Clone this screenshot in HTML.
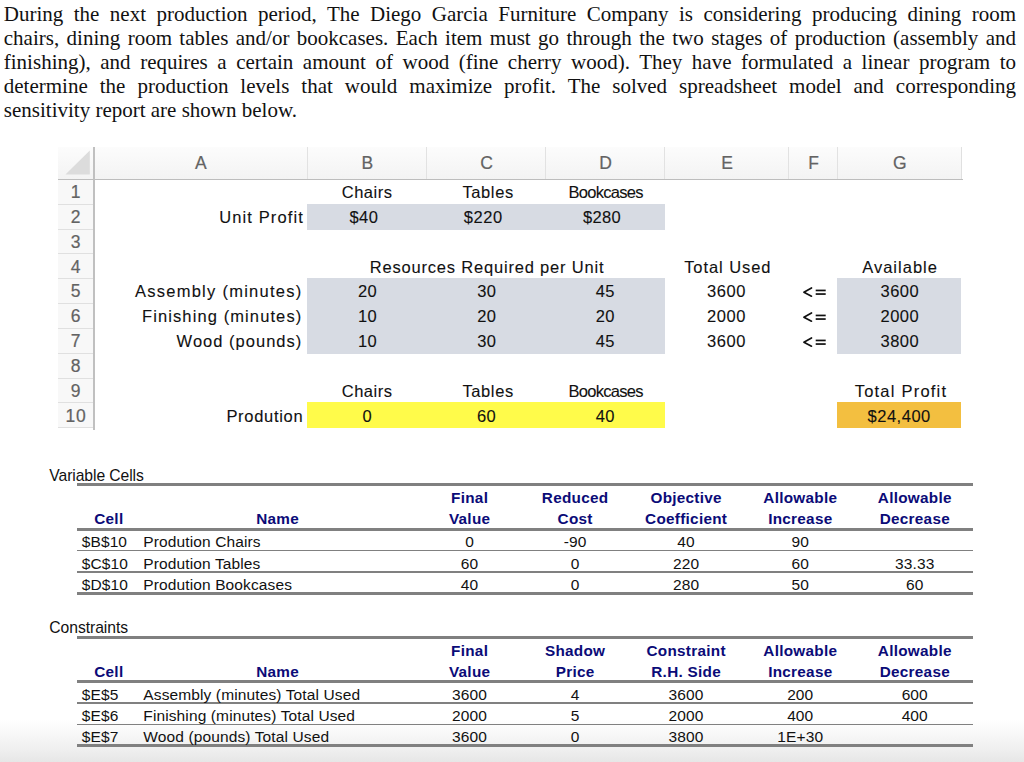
<!DOCTYPE html>
<html><head><meta charset="utf-8"><style>
html,body{margin:0;padding:0;background:#fff;width:1024px;height:762px;overflow:hidden;}
.t{position:absolute;white-space:nowrap;}
.r{position:absolute;}
</style></head><body>
<div class="r" style="left:0.00px;top:720.00px;width:1024.00px;height:42.00px;background:linear-gradient(rgba(226,226,226,0) 0%,rgba(226,226,226,0.35) 45%,rgba(226,226,226,0.6) 75%,rgba(226,226,226,0.85) 100%);"></div>
<div class="t" style="left:3.8px;top:0.21px;width:1012.2px;font-size:21px;line-height:28px;font-family:'Liberation Serif', serif;color:#111;white-space:normal;text-align:justify;text-align-last:justify;">During the next production period, The Diego Garcia Furniture Company is considering producing dining room</div>
<div class="t" style="left:3.8px;top:24.26px;width:1012.2px;font-size:21px;line-height:28px;font-family:'Liberation Serif', serif;color:#111;white-space:normal;text-align:justify;text-align-last:justify;">chairs, dining room tables and/or bookcases. Each item must go through the two stages of production (assembly and</div>
<div class="t" style="left:3.8px;top:48.31px;width:1012.2px;font-size:21px;line-height:28px;font-family:'Liberation Serif', serif;color:#111;white-space:normal;text-align:justify;text-align-last:justify;">finishing), and requires a certain amount of wood (fine cherry wood). They have formulated a linear program to</div>
<div class="t" style="left:3.8px;top:72.36px;width:1012.2px;font-size:21px;line-height:28px;font-family:'Liberation Serif', serif;color:#111;white-space:normal;text-align:justify;text-align-last:justify;">determine the production levels that would maximize profit. The solved spreadsheet model and corresponding</div>
<div class="t" style="left:3.8px;top:96.41px;width:1012.2px;font-size:21px;line-height:28px;font-family:'Liberation Serif', serif;color:#111;white-space:normal;text-align:left;">sensitivity report are shown below.</div>
<div class="r" style="left:58.20px;top:146.50px;width:902.80px;height:33.00px;background:linear-gradient(#fcfcfc,#f3f3f3);"></div>
<div class="r" style="left:58.20px;top:179.50px;width:35.70px;height:248.20px;background:#f8f8f8;"></div>
<div class="r" style="left:306.50px;top:146.50px;width:1.00px;height:33.00px;background:#e2e2e2;"></div>
<div class="r" style="left:426.10px;top:146.50px;width:1.00px;height:33.00px;background:#e2e2e2;"></div>
<div class="r" style="left:544.90px;top:146.50px;width:1.00px;height:33.00px;background:#e2e2e2;"></div>
<div class="r" style="left:664.30px;top:146.50px;width:1.00px;height:33.00px;background:#e2e2e2;"></div>
<div class="r" style="left:787.90px;top:146.50px;width:1.00px;height:33.00px;background:#e2e2e2;"></div>
<div class="r" style="left:837.10px;top:146.50px;width:1.00px;height:33.00px;background:#e2e2e2;"></div>
<div class="r" style="left:960.50px;top:146.50px;width:1.00px;height:33.00px;background:#e0e0e0;"></div>
<div class="r" style="left:58.20px;top:203.82px;width:35.70px;height:1.00px;background:#e0e0e0;"></div>
<div class="r" style="left:58.20px;top:228.64px;width:35.70px;height:1.00px;background:#e0e0e0;"></div>
<div class="r" style="left:58.20px;top:253.46px;width:35.70px;height:1.00px;background:#e0e0e0;"></div>
<div class="r" style="left:58.20px;top:278.28px;width:35.70px;height:1.00px;background:#e0e0e0;"></div>
<div class="r" style="left:58.20px;top:303.10px;width:35.70px;height:1.00px;background:#e0e0e0;"></div>
<div class="r" style="left:58.20px;top:327.92px;width:35.70px;height:1.00px;background:#e0e0e0;"></div>
<div class="r" style="left:58.20px;top:352.74px;width:35.70px;height:1.00px;background:#e0e0e0;"></div>
<div class="r" style="left:58.20px;top:377.56px;width:35.70px;height:1.00px;background:#e0e0e0;"></div>
<div class="r" style="left:58.20px;top:402.38px;width:35.70px;height:1.00px;background:#e0e0e0;"></div>
<div class="r" style="left:58.20px;top:427.20px;width:35.70px;height:1.00px;background:#e0e0e0;"></div>
<div class="r" style="left:58.20px;top:178.70px;width:904.80px;height:1.60px;background:#bdbdbd;"></div>
<div class="r" style="left:93.10px;top:146.50px;width:1.60px;height:283.50px;background:#c0c0c0;"></div>
<svg class="r" style="left:65px;top:150px;width:26px;height:26px" viewBox="0 0 26 26"><polygon points="0.4,24.6 24.8,0.6 24.8,24.6" fill="#dcdcdc"/></svg>
<div class="t" style="left:195.09px;top:149.54px;font-size:17.5px;line-height:26px;font-family:'Liberation Sans', sans-serif;color:#636363;-webkit-text-stroke:0.2px #636363;">A</div>
<div class="t" style="left:361.48px;top:149.54px;font-size:17.5px;line-height:26px;font-family:'Liberation Sans', sans-serif;color:#636363;-webkit-text-stroke:0.2px #636363;">B</div>
<div class="t" style="left:480.20px;top:149.54px;font-size:17.5px;line-height:26px;font-family:'Liberation Sans', sans-serif;color:#636363;-webkit-text-stroke:0.2px #636363;">C</div>
<div class="t" style="left:599.30px;top:149.54px;font-size:17.5px;line-height:26px;font-family:'Liberation Sans', sans-serif;color:#636363;-webkit-text-stroke:0.2px #636363;">D</div>
<div class="t" style="left:721.28px;top:149.54px;font-size:17.5px;line-height:26px;font-family:'Liberation Sans', sans-serif;color:#636363;-webkit-text-stroke:0.2px #636363;">E</div>
<div class="t" style="left:808.16px;top:149.54px;font-size:17.5px;line-height:26px;font-family:'Liberation Sans', sans-serif;color:#636363;-webkit-text-stroke:0.2px #636363;">F</div>
<div class="t" style="left:892.97px;top:149.54px;font-size:17.5px;line-height:26px;font-family:'Liberation Sans', sans-serif;color:#636363;-webkit-text-stroke:0.2px #636363;">G</div>
<div class="t" style="left:70.74px;top:179.14px;font-size:17.5px;line-height:26px;font-family:'Liberation Sans', sans-serif;color:#636363;letter-spacing:0.800px;-webkit-text-stroke:0.2px #636363;">1</div>
<div class="t" style="left:70.74px;top:203.96px;font-size:17.5px;line-height:26px;font-family:'Liberation Sans', sans-serif;color:#636363;letter-spacing:0.800px;-webkit-text-stroke:0.2px #636363;">2</div>
<div class="t" style="left:70.74px;top:228.78px;font-size:17.5px;line-height:26px;font-family:'Liberation Sans', sans-serif;color:#636363;letter-spacing:0.800px;-webkit-text-stroke:0.2px #636363;">3</div>
<div class="t" style="left:70.74px;top:253.60px;font-size:17.5px;line-height:26px;font-family:'Liberation Sans', sans-serif;color:#636363;letter-spacing:0.800px;-webkit-text-stroke:0.2px #636363;">4</div>
<div class="t" style="left:70.74px;top:278.42px;font-size:17.5px;line-height:26px;font-family:'Liberation Sans', sans-serif;color:#636363;letter-spacing:0.800px;-webkit-text-stroke:0.2px #636363;">5</div>
<div class="t" style="left:70.74px;top:303.24px;font-size:17.5px;line-height:26px;font-family:'Liberation Sans', sans-serif;color:#636363;letter-spacing:0.800px;-webkit-text-stroke:0.2px #636363;">6</div>
<div class="t" style="left:70.74px;top:328.06px;font-size:17.5px;line-height:26px;font-family:'Liberation Sans', sans-serif;color:#636363;letter-spacing:0.800px;-webkit-text-stroke:0.2px #636363;">7</div>
<div class="t" style="left:70.74px;top:352.88px;font-size:17.5px;line-height:26px;font-family:'Liberation Sans', sans-serif;color:#636363;letter-spacing:0.800px;-webkit-text-stroke:0.2px #636363;">8</div>
<div class="t" style="left:70.74px;top:377.70px;font-size:17.5px;line-height:26px;font-family:'Liberation Sans', sans-serif;color:#636363;letter-spacing:0.800px;-webkit-text-stroke:0.2px #636363;">9</div>
<div class="t" style="left:65.49px;top:402.52px;font-size:17.5px;line-height:26px;font-family:'Liberation Sans', sans-serif;color:#636363;letter-spacing:0.800px;-webkit-text-stroke:0.2px #636363;">10</div>
<div class="r" style="left:306.60px;top:203.92px;width:358.60px;height:25.62px;background:#d7dbe3;"></div>
<div class="r" style="left:306.60px;top:278.38px;width:358.60px;height:75.26px;background:#d7dbe3;"></div>
<div class="r" style="left:837.20px;top:278.38px;width:124.20px;height:75.26px;background:#d7dbe3;"></div>
<div class="r" style="left:306.60px;top:402.48px;width:358.60px;height:25.62px;background:#fffb4a;"></div>
<div class="r" style="left:837.20px;top:402.48px;width:124.20px;height:25.62px;background:#f3bf40;"></div>
<div class="t" style="left:341.70px;top:180.18px;font-size:16.5px;line-height:25px;font-family:'Liberation Sans', sans-serif;color:#111;letter-spacing:0.543px;-webkit-text-stroke:0.1px #111;">Chairs</div>
<div class="t" style="left:462.40px;top:180.18px;font-size:16.5px;line-height:25px;font-family:'Liberation Sans', sans-serif;color:#111;letter-spacing:0.623px;-webkit-text-stroke:0.1px #111;">Tables</div>
<div class="t" style="left:568.50px;top:180.18px;font-size:16.5px;line-height:25px;font-family:'Liberation Sans', sans-serif;color:#111;letter-spacing:-0.723px;-webkit-text-stroke:0.1px #111;">Bookcases</div>
<div class="t" style="left:341.70px;top:378.74px;font-size:16.5px;line-height:25px;font-family:'Liberation Sans', sans-serif;color:#111;letter-spacing:0.543px;-webkit-text-stroke:0.1px #111;">Chairs</div>
<div class="t" style="left:462.40px;top:378.74px;font-size:16.5px;line-height:25px;font-family:'Liberation Sans', sans-serif;color:#111;letter-spacing:0.623px;-webkit-text-stroke:0.1px #111;">Tables</div>
<div class="t" style="left:568.50px;top:378.74px;font-size:16.5px;line-height:25px;font-family:'Liberation Sans', sans-serif;color:#111;letter-spacing:-0.723px;-webkit-text-stroke:0.1px #111;">Bookcases</div>
<div class="t" style="left:219.30px;top:205.00px;font-size:16.5px;line-height:25px;font-family:'Liberation Sans', sans-serif;color:#111;letter-spacing:1.106px;-webkit-text-stroke:0.1px #111;">Unit Profit</div>
<div class="t" style="left:349.50px;top:205.00px;font-size:16.5px;line-height:25px;font-family:'Liberation Sans', sans-serif;color:#111;letter-spacing:0.422px;-webkit-text-stroke:0.1px #111;">$40</div>
<div class="t" style="left:463.80px;top:205.00px;font-size:16.5px;line-height:25px;font-family:'Liberation Sans', sans-serif;color:#111;letter-spacing:0.596px;-webkit-text-stroke:0.1px #111;">$220</div>
<div class="t" style="left:583.00px;top:205.00px;font-size:16.5px;line-height:25px;font-family:'Liberation Sans', sans-serif;color:#111;letter-spacing:0.362px;-webkit-text-stroke:0.1px #111;">$280</div>
<div class="t" style="left:369.80px;top:254.64px;font-size:16.5px;line-height:25px;font-family:'Liberation Sans', sans-serif;color:#111;letter-spacing:0.805px;-webkit-text-stroke:0.1px #111;">Resources Required per Unit</div>
<div class="t" style="left:684.20px;top:254.64px;font-size:16.5px;line-height:25px;font-family:'Liberation Sans', sans-serif;color:#111;letter-spacing:0.926px;-webkit-text-stroke:0.1px #111;">Total Used</div>
<div class="t" style="left:862.20px;top:254.64px;font-size:16.5px;line-height:25px;font-family:'Liberation Sans', sans-serif;color:#111;letter-spacing:1.017px;-webkit-text-stroke:0.1px #111;">Available</div>
<div class="t" style="left:134.90px;top:279.46px;font-size:16.5px;line-height:25px;font-family:'Liberation Sans', sans-serif;color:#111;letter-spacing:1.266px;-webkit-text-stroke:0.1px #111;">Assembly (minutes)</div>
<div class="t" style="left:358.09px;top:279.46px;font-size:16.5px;line-height:25px;font-family:'Liberation Sans', sans-serif;color:#111;letter-spacing:0.300px;-webkit-text-stroke:0.1px #111;">20</div>
<div class="t" style="left:477.19px;top:279.46px;font-size:16.5px;line-height:25px;font-family:'Liberation Sans', sans-serif;color:#111;letter-spacing:0.300px;-webkit-text-stroke:0.1px #111;">30</div>
<div class="t" style="left:595.69px;top:279.46px;font-size:16.5px;line-height:25px;font-family:'Liberation Sans', sans-serif;color:#111;letter-spacing:0.300px;-webkit-text-stroke:0.1px #111;">45</div>
<div class="t" style="left:707.02px;top:279.46px;font-size:16.5px;line-height:25px;font-family:'Liberation Sans', sans-serif;color:#111;letter-spacing:0.550px;-webkit-text-stroke:0.1px #111;">3600</div>
<svg class="r" style="left:795px;top:280.00px;width:40px;height:24px" viewBox="0 0 40 24"><polyline points="16.5,8.0 8.9,12.2 16.5,16.2" fill="none" stroke="#111" stroke-width="1.7" stroke-linejoin="round" stroke-linecap="round"/><rect x="20.7" y="9.6" width="10" height="1.7" fill="#111"/><rect x="20.7" y="13.2" width="10" height="1.7" fill="#111"/></svg>
<div class="t" style="left:880.42px;top:279.46px;font-size:16.5px;line-height:25px;font-family:'Liberation Sans', sans-serif;color:#111;letter-spacing:0.550px;-webkit-text-stroke:0.1px #111;">3600</div>
<div class="t" style="left:142.00px;top:304.28px;font-size:16.5px;line-height:25px;font-family:'Liberation Sans', sans-serif;color:#111;letter-spacing:1.104px;-webkit-text-stroke:0.1px #111;">Finishing (minutes)</div>
<div class="t" style="left:358.09px;top:304.28px;font-size:16.5px;line-height:25px;font-family:'Liberation Sans', sans-serif;color:#111;letter-spacing:0.300px;-webkit-text-stroke:0.1px #111;">10</div>
<div class="t" style="left:477.19px;top:304.28px;font-size:16.5px;line-height:25px;font-family:'Liberation Sans', sans-serif;color:#111;letter-spacing:0.300px;-webkit-text-stroke:0.1px #111;">20</div>
<div class="t" style="left:595.69px;top:304.28px;font-size:16.5px;line-height:25px;font-family:'Liberation Sans', sans-serif;color:#111;letter-spacing:0.300px;-webkit-text-stroke:0.1px #111;">20</div>
<div class="t" style="left:707.02px;top:304.28px;font-size:16.5px;line-height:25px;font-family:'Liberation Sans', sans-serif;color:#111;letter-spacing:0.550px;-webkit-text-stroke:0.1px #111;">2000</div>
<svg class="r" style="left:795px;top:304.82px;width:40px;height:24px" viewBox="0 0 40 24"><polyline points="16.5,8.0 8.9,12.2 16.5,16.2" fill="none" stroke="#111" stroke-width="1.7" stroke-linejoin="round" stroke-linecap="round"/><rect x="20.7" y="9.6" width="10" height="1.7" fill="#111"/><rect x="20.7" y="13.2" width="10" height="1.7" fill="#111"/></svg>
<div class="t" style="left:880.42px;top:304.28px;font-size:16.5px;line-height:25px;font-family:'Liberation Sans', sans-serif;color:#111;letter-spacing:0.550px;-webkit-text-stroke:0.1px #111;">2000</div>
<div class="t" style="left:176.60px;top:329.10px;font-size:16.5px;line-height:25px;font-family:'Liberation Sans', sans-serif;color:#111;letter-spacing:1.014px;-webkit-text-stroke:0.1px #111;">Wood (pounds)</div>
<div class="t" style="left:358.09px;top:329.10px;font-size:16.5px;line-height:25px;font-family:'Liberation Sans', sans-serif;color:#111;letter-spacing:0.300px;-webkit-text-stroke:0.1px #111;">10</div>
<div class="t" style="left:477.19px;top:329.10px;font-size:16.5px;line-height:25px;font-family:'Liberation Sans', sans-serif;color:#111;letter-spacing:0.300px;-webkit-text-stroke:0.1px #111;">30</div>
<div class="t" style="left:595.69px;top:329.10px;font-size:16.5px;line-height:25px;font-family:'Liberation Sans', sans-serif;color:#111;letter-spacing:0.300px;-webkit-text-stroke:0.1px #111;">45</div>
<div class="t" style="left:707.02px;top:329.10px;font-size:16.5px;line-height:25px;font-family:'Liberation Sans', sans-serif;color:#111;letter-spacing:0.550px;-webkit-text-stroke:0.1px #111;">3600</div>
<svg class="r" style="left:795px;top:329.64px;width:40px;height:24px" viewBox="0 0 40 24"><polyline points="16.5,8.0 8.9,12.2 16.5,16.2" fill="none" stroke="#111" stroke-width="1.7" stroke-linejoin="round" stroke-linecap="round"/><rect x="20.7" y="9.6" width="10" height="1.7" fill="#111"/><rect x="20.7" y="13.2" width="10" height="1.7" fill="#111"/></svg>
<div class="t" style="left:880.42px;top:329.10px;font-size:16.5px;line-height:25px;font-family:'Liberation Sans', sans-serif;color:#111;letter-spacing:0.550px;-webkit-text-stroke:0.1px #111;">3800</div>
<div class="t" style="left:854.70px;top:378.74px;font-size:16.5px;line-height:25px;font-family:'Liberation Sans', sans-serif;color:#111;letter-spacing:1.222px;-webkit-text-stroke:0.1px #111;">Total Profit</div>
<div class="t" style="left:226.40px;top:403.56px;font-size:16.5px;line-height:25px;font-family:'Liberation Sans', sans-serif;color:#111;letter-spacing:0.698px;-webkit-text-stroke:0.1px #111;">Prodution</div>
<div class="t" style="left:362.42px;top:403.56px;font-size:16.5px;line-height:25px;font-family:'Liberation Sans', sans-serif;color:#111;-webkit-text-stroke:0.1px #111;">0</div>
<div class="t" style="left:476.99px;top:403.56px;font-size:16.5px;line-height:25px;font-family:'Liberation Sans', sans-serif;color:#111;letter-spacing:0.300px;-webkit-text-stroke:0.1px #111;">60</div>
<div class="t" style="left:595.69px;top:403.56px;font-size:16.5px;line-height:25px;font-family:'Liberation Sans', sans-serif;color:#111;letter-spacing:0.300px;-webkit-text-stroke:0.1px #111;">40</div>
<div class="t" style="left:867.50px;top:403.56px;font-size:16.5px;line-height:25px;font-family:'Liberation Sans', sans-serif;color:#111;letter-spacing:0.525px;-webkit-text-stroke:0.1px #111;">$24,400</div>
<div class="t" style="left:49.30px;top:463.56px;font-size:15.7px;line-height:24px;font-family:'Liberation Sans', sans-serif;color:#111;letter-spacing:-0.084px;">Variable Cells</div>
<div class="r" style="left:76.80px;top:483.20px;width:896.20px;height:3.00px;background:#808080;"></div>
<div class="t" style="left:94.24px;top:507.10px;font-size:15.3px;line-height:23px;font-family:'Liberation Sans', sans-serif;color:#0b0b78;letter-spacing:0.280px;font-weight:bold;">Cell</div>
<div class="t" style="left:256.23px;top:507.10px;font-size:15.3px;line-height:23px;font-family:'Liberation Sans', sans-serif;color:#0b0b78;letter-spacing:0.280px;font-weight:bold;">Name</div>
<div class="t" style="left:451.08px;top:486.00px;font-size:15.3px;line-height:23px;font-family:'Liberation Sans', sans-serif;color:#0b0b78;letter-spacing:0.280px;font-weight:bold;">Final</div>
<div class="t" style="left:448.94px;top:507.10px;font-size:15.3px;line-height:23px;font-family:'Liberation Sans', sans-serif;color:#0b0b78;letter-spacing:0.280px;font-weight:bold;">Value</div>
<div class="t" style="left:541.84px;top:486.00px;font-size:15.3px;line-height:23px;font-family:'Liberation Sans', sans-serif;color:#0b0b78;letter-spacing:0.280px;font-weight:bold;">Reduced</div>
<div class="t" style="left:557.60px;top:507.10px;font-size:15.3px;line-height:23px;font-family:'Liberation Sans', sans-serif;color:#0b0b78;letter-spacing:0.280px;font-weight:bold;">Cost</div>
<div class="t" style="left:650.46px;top:486.00px;font-size:15.3px;line-height:23px;font-family:'Liberation Sans', sans-serif;color:#0b0b78;letter-spacing:0.280px;font-weight:bold;">Objective</div>
<div class="t" style="left:645.09px;top:507.10px;font-size:15.3px;line-height:23px;font-family:'Liberation Sans', sans-serif;color:#0b0b78;letter-spacing:0.280px;font-weight:bold;">Coefficient</div>
<div class="t" style="left:763.35px;top:486.00px;font-size:15.3px;line-height:23px;font-family:'Liberation Sans', sans-serif;color:#0b0b78;letter-spacing:0.280px;font-weight:bold;">Allowable</div>
<div class="t" style="left:768.16px;top:507.10px;font-size:15.3px;line-height:23px;font-family:'Liberation Sans', sans-serif;color:#0b0b78;letter-spacing:0.280px;font-weight:bold;">Increase</div>
<div class="t" style="left:877.85px;top:486.00px;font-size:15.3px;line-height:23px;font-family:'Liberation Sans', sans-serif;color:#0b0b78;letter-spacing:0.280px;font-weight:bold;">Allowable</div>
<div class="t" style="left:879.68px;top:507.10px;font-size:15.3px;line-height:23px;font-family:'Liberation Sans', sans-serif;color:#0b0b78;letter-spacing:0.280px;font-weight:bold;">Decrease</div>
<div class="r" style="left:76.80px;top:527.60px;width:896.20px;height:3.00px;background:#808080;"></div>
<div class="r" style="left:76.80px;top:549.80px;width:896.20px;height:1.60px;background:#808080;"></div>
<div class="r" style="left:76.80px;top:571.00px;width:896.20px;height:1.60px;background:#808080;"></div>
<div class="r" style="left:76.80px;top:591.90px;width:896.20px;height:3.00px;background:#808080;"></div>
<div class="t" style="left:81.70px;top:530.33px;font-size:15.5px;line-height:23px;font-family:'Liberation Sans', sans-serif;color:#111;letter-spacing:0.120px;">$B$10</div>
<div class="t" style="left:143.30px;top:530.33px;font-size:15.5px;line-height:23px;font-family:'Liberation Sans', sans-serif;color:#111;letter-spacing:0.120px;">Prodution Chairs</div>
<div class="t" style="left:465.20px;top:530.33px;font-size:15.5px;line-height:23px;font-family:'Liberation Sans', sans-serif;color:#111;letter-spacing:0.120px;">0</div>
<div class="t" style="left:563.68px;top:530.33px;font-size:15.5px;line-height:23px;font-family:'Liberation Sans', sans-serif;color:#111;letter-spacing:0.120px;">-90</div>
<div class="t" style="left:677.34px;top:530.33px;font-size:15.5px;line-height:23px;font-family:'Liberation Sans', sans-serif;color:#111;letter-spacing:0.120px;">40</div>
<div class="t" style="left:791.54px;top:530.33px;font-size:15.5px;line-height:23px;font-family:'Liberation Sans', sans-serif;color:#111;letter-spacing:0.120px;">90</div>
<div class="t" style="left:81.70px;top:551.53px;font-size:15.5px;line-height:23px;font-family:'Liberation Sans', sans-serif;color:#111;letter-spacing:0.120px;">$C$10</div>
<div class="t" style="left:143.30px;top:551.53px;font-size:15.5px;line-height:23px;font-family:'Liberation Sans', sans-serif;color:#111;letter-spacing:0.120px;">Prodution Tables</div>
<div class="t" style="left:460.84px;top:551.53px;font-size:15.5px;line-height:23px;font-family:'Liberation Sans', sans-serif;color:#111;letter-spacing:0.120px;">60</div>
<div class="t" style="left:570.70px;top:551.53px;font-size:15.5px;line-height:23px;font-family:'Liberation Sans', sans-serif;color:#111;letter-spacing:0.120px;">0</div>
<div class="t" style="left:672.94px;top:551.53px;font-size:15.5px;line-height:23px;font-family:'Liberation Sans', sans-serif;color:#111;letter-spacing:0.120px;">220</div>
<div class="t" style="left:791.54px;top:551.53px;font-size:15.5px;line-height:23px;font-family:'Liberation Sans', sans-serif;color:#111;letter-spacing:0.120px;">60</div>
<div class="t" style="left:895.05px;top:551.53px;font-size:15.5px;line-height:23px;font-family:'Liberation Sans', sans-serif;color:#111;letter-spacing:0.120px;">33.33</div>
<div class="t" style="left:81.70px;top:572.73px;font-size:15.5px;line-height:23px;font-family:'Liberation Sans', sans-serif;color:#111;letter-spacing:0.120px;">$D$10</div>
<div class="t" style="left:143.30px;top:572.73px;font-size:15.5px;line-height:23px;font-family:'Liberation Sans', sans-serif;color:#111;letter-spacing:0.120px;">Prodution Bookcases</div>
<div class="t" style="left:460.84px;top:572.73px;font-size:15.5px;line-height:23px;font-family:'Liberation Sans', sans-serif;color:#111;letter-spacing:0.120px;">40</div>
<div class="t" style="left:570.70px;top:572.73px;font-size:15.5px;line-height:23px;font-family:'Liberation Sans', sans-serif;color:#111;letter-spacing:0.120px;">0</div>
<div class="t" style="left:672.94px;top:572.73px;font-size:15.5px;line-height:23px;font-family:'Liberation Sans', sans-serif;color:#111;letter-spacing:0.120px;">280</div>
<div class="t" style="left:791.54px;top:572.73px;font-size:15.5px;line-height:23px;font-family:'Liberation Sans', sans-serif;color:#111;letter-spacing:0.120px;">50</div>
<div class="t" style="left:906.04px;top:572.73px;font-size:15.5px;line-height:23px;font-family:'Liberation Sans', sans-serif;color:#111;letter-spacing:0.120px;">60</div>
<div class="t" style="left:49.30px;top:616.06px;font-size:15.7px;line-height:24px;font-family:'Liberation Sans', sans-serif;color:#111;letter-spacing:-0.054px;">Constraints</div>
<div class="r" style="left:76.80px;top:635.70px;width:896.20px;height:3.00px;background:#808080;"></div>
<div class="t" style="left:94.24px;top:659.60px;font-size:15.3px;line-height:23px;font-family:'Liberation Sans', sans-serif;color:#0b0b78;letter-spacing:0.280px;font-weight:bold;">Cell</div>
<div class="t" style="left:256.23px;top:659.60px;font-size:15.3px;line-height:23px;font-family:'Liberation Sans', sans-serif;color:#0b0b78;letter-spacing:0.280px;font-weight:bold;">Name</div>
<div class="t" style="left:451.08px;top:638.50px;font-size:15.3px;line-height:23px;font-family:'Liberation Sans', sans-serif;color:#0b0b78;letter-spacing:0.280px;font-weight:bold;">Final</div>
<div class="t" style="left:448.94px;top:659.60px;font-size:15.3px;line-height:23px;font-family:'Liberation Sans', sans-serif;color:#0b0b78;letter-spacing:0.280px;font-weight:bold;">Value</div>
<div class="t" style="left:544.96px;top:638.50px;font-size:15.3px;line-height:23px;font-family:'Liberation Sans', sans-serif;color:#0b0b78;letter-spacing:0.280px;font-weight:bold;">Shadow</div>
<div class="t" style="left:555.74px;top:659.60px;font-size:15.3px;line-height:23px;font-family:'Liberation Sans', sans-serif;color:#0b0b78;letter-spacing:0.280px;font-weight:bold;">Price</div>
<div class="t" style="left:646.49px;top:638.50px;font-size:15.3px;line-height:23px;font-family:'Liberation Sans', sans-serif;color:#0b0b78;letter-spacing:0.280px;font-weight:bold;">Constraint</div>
<div class="t" style="left:651.30px;top:659.60px;font-size:15.3px;line-height:23px;font-family:'Liberation Sans', sans-serif;color:#0b0b78;letter-spacing:0.280px;font-weight:bold;">R.H. Side</div>
<div class="t" style="left:763.35px;top:638.50px;font-size:15.3px;line-height:23px;font-family:'Liberation Sans', sans-serif;color:#0b0b78;letter-spacing:0.280px;font-weight:bold;">Allowable</div>
<div class="t" style="left:768.16px;top:659.60px;font-size:15.3px;line-height:23px;font-family:'Liberation Sans', sans-serif;color:#0b0b78;letter-spacing:0.280px;font-weight:bold;">Increase</div>
<div class="t" style="left:877.85px;top:638.50px;font-size:15.3px;line-height:23px;font-family:'Liberation Sans', sans-serif;color:#0b0b78;letter-spacing:0.280px;font-weight:bold;">Allowable</div>
<div class="t" style="left:879.68px;top:659.60px;font-size:15.3px;line-height:23px;font-family:'Liberation Sans', sans-serif;color:#0b0b78;letter-spacing:0.280px;font-weight:bold;">Decrease</div>
<div class="r" style="left:76.80px;top:680.10px;width:896.20px;height:3.00px;background:#808080;"></div>
<div class="r" style="left:76.80px;top:702.30px;width:896.20px;height:1.60px;background:#808080;"></div>
<div class="r" style="left:76.80px;top:723.50px;width:896.20px;height:1.60px;background:#808080;"></div>
<div class="r" style="left:76.80px;top:744.40px;width:896.20px;height:3.00px;background:#808080;"></div>
<div class="t" style="left:81.70px;top:682.83px;font-size:15.5px;line-height:23px;font-family:'Liberation Sans', sans-serif;color:#111;letter-spacing:0.120px;">$E$5</div>
<div class="t" style="left:143.30px;top:682.83px;font-size:15.5px;line-height:23px;font-family:'Liberation Sans', sans-serif;color:#111;letter-spacing:0.120px;">Assembly (minutes) Total Used</div>
<div class="t" style="left:452.08px;top:682.83px;font-size:15.5px;line-height:23px;font-family:'Liberation Sans', sans-serif;color:#111;letter-spacing:0.120px;">3600</div>
<div class="t" style="left:570.70px;top:682.83px;font-size:15.5px;line-height:23px;font-family:'Liberation Sans', sans-serif;color:#111;letter-spacing:0.120px;">4</div>
<div class="t" style="left:668.58px;top:682.83px;font-size:15.5px;line-height:23px;font-family:'Liberation Sans', sans-serif;color:#111;letter-spacing:0.120px;">3600</div>
<div class="t" style="left:787.14px;top:682.83px;font-size:15.5px;line-height:23px;font-family:'Liberation Sans', sans-serif;color:#111;letter-spacing:0.120px;">200</div>
<div class="t" style="left:901.64px;top:682.83px;font-size:15.5px;line-height:23px;font-family:'Liberation Sans', sans-serif;color:#111;letter-spacing:0.120px;">600</div>
<div class="t" style="left:81.70px;top:704.03px;font-size:15.5px;line-height:23px;font-family:'Liberation Sans', sans-serif;color:#111;letter-spacing:0.120px;">$E$6</div>
<div class="t" style="left:143.30px;top:704.03px;font-size:15.5px;line-height:23px;font-family:'Liberation Sans', sans-serif;color:#111;letter-spacing:0.120px;">Finishing (minutes) Total Used</div>
<div class="t" style="left:452.08px;top:704.03px;font-size:15.5px;line-height:23px;font-family:'Liberation Sans', sans-serif;color:#111;letter-spacing:0.120px;">2000</div>
<div class="t" style="left:570.70px;top:704.03px;font-size:15.5px;line-height:23px;font-family:'Liberation Sans', sans-serif;color:#111;letter-spacing:0.120px;">5</div>
<div class="t" style="left:668.58px;top:704.03px;font-size:15.5px;line-height:23px;font-family:'Liberation Sans', sans-serif;color:#111;letter-spacing:0.120px;">2000</div>
<div class="t" style="left:787.14px;top:704.03px;font-size:15.5px;line-height:23px;font-family:'Liberation Sans', sans-serif;color:#111;letter-spacing:0.120px;">400</div>
<div class="t" style="left:901.64px;top:704.03px;font-size:15.5px;line-height:23px;font-family:'Liberation Sans', sans-serif;color:#111;letter-spacing:0.120px;">400</div>
<div class="t" style="left:81.70px;top:725.23px;font-size:15.5px;line-height:23px;font-family:'Liberation Sans', sans-serif;color:#111;letter-spacing:0.120px;">$E$7</div>
<div class="t" style="left:143.30px;top:725.23px;font-size:15.5px;line-height:23px;font-family:'Liberation Sans', sans-serif;color:#111;letter-spacing:0.120px;">Wood (pounds) Total Used</div>
<div class="t" style="left:452.08px;top:725.23px;font-size:15.5px;line-height:23px;font-family:'Liberation Sans', sans-serif;color:#111;letter-spacing:0.120px;">3600</div>
<div class="t" style="left:570.70px;top:725.23px;font-size:15.5px;line-height:23px;font-family:'Liberation Sans', sans-serif;color:#111;letter-spacing:0.120px;">0</div>
<div class="t" style="left:668.58px;top:725.23px;font-size:15.5px;line-height:23px;font-family:'Liberation Sans', sans-serif;color:#111;letter-spacing:0.120px;">3800</div>
<div class="t" style="left:777.33px;top:725.23px;font-size:15.5px;line-height:23px;font-family:'Liberation Sans', sans-serif;color:#111;letter-spacing:0.120px;">1E+30</div>
</body></html>
